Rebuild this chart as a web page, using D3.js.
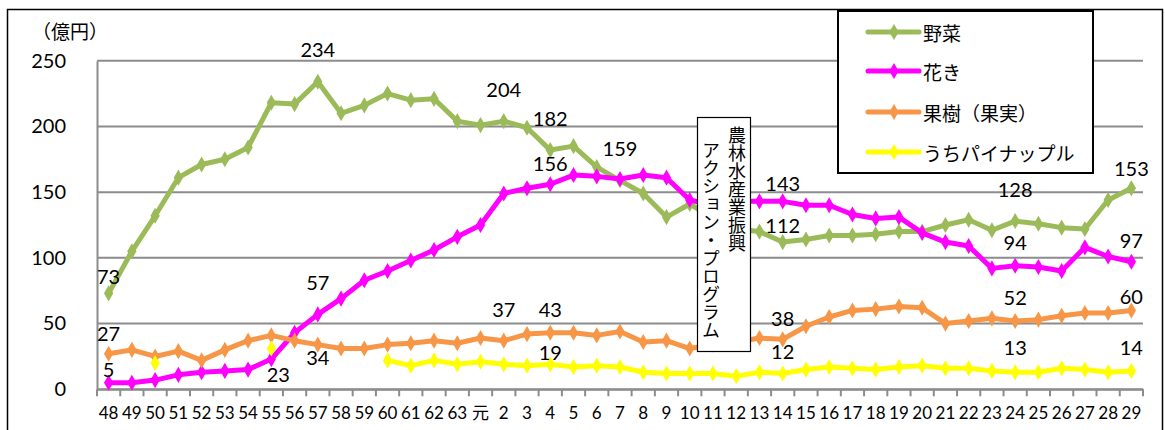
<!DOCTYPE html>
<html>
<head>
<meta charset="utf-8">
<script src="https://cdn.jsdelivr.net/npm/d3@7"></script>
<style>
  body { margin: 0; background: #fff; }
  svg { display: block; }
  text { font-family: Lato, "Noto Sans CJK JP", sans-serif; fill: #000; }
  .jp { font-family: "Noto Sans CJK JP", sans-serif; }
</style>
</head>
<body>
<div id="chart"></div>
<script>
// categories: Showa 48-63, Heisei 元-29
var categories = ["48","49","50","51","52","53","54","55","56","57","58","59","60","61","62","63",
    "元","2","3","4","5","6","7","8","9","10","11","12","13","14","15","16","17","18","19","20",
    "21","22","23","24","25","26","27","28","29"];

var vegetables = [73,105,132,161,171,175,184,218,217,234,210,216,225,220,221,204,
    201,204,199,182,185,169,159,149,131,141,130,122,120,112,114,117,117,118,120,120,
    125,129,121,128,126,123,122,144,153];

var flowers = [5,5,7,11,13,14,15,23,43,57,69,83,90,98,106,116,
    125,149,153,156,163,162,160,163,161,144,140,143,143,143,140,140,133,130,131,119,
    112,109,92,94,93,90,108,101,97];

var fruit = [27,30,25,29,22,30,37,41,37,34,31,31,34,35,37,35,
    39,37,42,43,43,41,44,36,37,31,34,36,39,38,48,55,60,61,63,62,
    50,52,54,52,53,56,58,58,60];

var pineapple = [null,null,20,null,null,null,null,31,null,null,null,null,22,18,22,19,
    21,19,18,19,17,18,17,13,12,12,12,10,13,12,15,17,16,15,17,18,
    16,16,14,13,13,16,15,13,14];

var yTicks = [0,50,100,150,200,250];

// which categories get a value label
var vegLabels = ["48","57","2","4","7","14","24","29"];
var flowerLabels = ["48","55","57","4","14","24","29"];
var fruitLabels = ["48","57","2","4","14","24","29"];
var pineLabels = ["4","14","24","29"];

var seriesNames = ["野菜", "花き", "果樹（果実）", "うちパイナップル"];
var annotation = ["農林水産業振興", "アクション・プログラム"];

// label offsets (dx, dy of text centre from the point)
var labelOffsets = {
    "野菜": {"48": [0,-17], "57": [0,-33], "2": [0,-32], "4": [0,-32], "7": [0,-32], "14": [0,-17], "24": [0,-32], "29": [0,-20]},
    "花き": {"48": [0,-14], "55": [7,15], "57": [0,-32], "4": [0,-21], "14": [0,-18], "24": [0,-24], "29": [0,-22]},
    "果樹（果実）": {"48": [0,-21], "57": [0,12], "2": [0,-32], "4": [0,-24], "14": [0,-21], "24": [0,-24], "29": [0,-14]},
    "うちパイナップル": {"4": [0,-12], "14": [0,-23], "24": [0,-25], "29": [0,-24]}
};

var series = [
    {name: seriesNames[0], values: vegetables, labels: vegLabels, color: "#9BBB59"},
    {name: seriesNames[1], values: flowers, labels: flowerLabels, color: "#FF00FF"},
    {name: seriesNames[2], values: fruit, labels: fruitLabels, color: "#F79646"},
    {name: seriesNames[3], values: pineapple, labels: pineLabels, color: "#FFFF00"}
];

var width = 1165, height = 430;
var plot = {left: 97, right: 1143, top: 60.7, bottom: 389.3};

var svg = d3.select("#chart").append("svg")
    .attr("width", width)
    .attr("height", height);

// outer chart frame (bottom edge falls outside the picture)
svg.append("rect")
    .attr("x", 7.5).attr("y", 9.5)
    .attr("width", 1155).attr("height", 440)
    .attr("fill", "#fff")
    .attr("stroke", "#000")
    .attr("stroke-width", 1.5);

var x = d3.scaleBand()
    .domain(categories)
    .range([plot.left, plot.right]);

var y = d3.scaleLinear()
    .domain([0, 250])
    .range([plot.bottom, plot.top]);

function cx(c) { return x(c) + x.bandwidth() / 2; }

// gridlines
svg.append("g")
    .selectAll("line")
    .data(yTicks)
    .enter().append("line")
    .attr("x1", plot.left).attr("x2", plot.right)
    .attr("y1", function(d) { return y(d); })
    .attr("y2", function(d) { return y(d); })
    .attr("stroke", "#8c8c8c")
    .attr("stroke-width", 2);

// y axis
var yAxis = svg.append("g")
    .attr("transform", "translate(" + plot.left + ",0)")
    .call(d3.axisLeft(y).tickValues(yTicks).tickSize(0).tickPadding(31));
yAxis.select(".domain").attr("stroke", "#8c8c8c").attr("stroke-width", 2);
yAxis.selectAll("text")
    .style("font-family", "Lato, sans-serif")
    .style("font-size", "20px")
    .attr("fill", "#000");

// x axis: ticks sit on band edges
var xAxis = svg.append("g")
    .attr("transform", "translate(0," + plot.bottom + ")")
    .call(d3.axisBottom(x).tickSize(0).tickPadding(18));
xAxis.select(".domain").attr("stroke", "#8c8c8c").attr("stroke-width", 2);
xAxis.selectAll("text")
    .style("font-family", "Lato, 'Noto Sans CJK JP', sans-serif")
    .style("font-size", "17px")
    .attr("fill", "#000");

var edges = categories.map(function(c) { return x(c); }).concat([plot.right]);
xAxis.selectAll(".edge")
    .data(edges)
    .enter().append("line")
    .attr("class", "edge")
    .attr("x1", function(d) { return d; })
    .attr("x2", function(d) { return d; })
    .attr("y1", 0).attr("y2", 7)
    .attr("stroke", "#8c8c8c")
    .attr("stroke-width", 2);

// y unit
svg.append("text")
    .attr("class", "jp")
    .attr("x", 32).attr("y", 39)
    .style("font-size", "19px")
    .text("（億円）");

var line = d3.line()
    .defined(function(d) { return d.v !== null; })
    .x(function(d) { return cx(d.c); })
    .y(function(d) { return y(d.v); });

var diamond = d3.symbol().type(d3.symbolDiamond).size(75);

series.forEach(function(s) {
    var pts = s.values.map(function(v, i) { return {c: categories[i], v: v}; });
    var g = svg.append("g");

    g.append("path")
        .datum(pts)
        .attr("fill", "none")
        .attr("stroke", s.color)
        .attr("stroke-width", 5)
        .attr("stroke-linejoin", "round")
        .attr("d", line);

    g.selectAll(".pt")
        .data(pts.filter(function(d) { return d.v !== null; }))
        .enter().append("path")
        .attr("class", "pt")
        .attr("transform", function(d) { return "translate(" + cx(d.c) + "," + y(d.v) + ")"; })
        .attr("d", diamond)
        .attr("fill", s.color);
});

// value labels
series.forEach(function(s) {
    svg.append("g")
        .selectAll("text")
        .data(s.labels)
        .enter().append("text")
        .attr("x", function(c) { return cx(c) + labelOffsets[s.name][c][0]; })
        .attr("y", function(c) { return y(s.values[categories.indexOf(c)]) + labelOffsets[s.name][c][1]; })
        .attr("text-anchor", "middle")
        .attr("dominant-baseline", "central")
        .style("font-size", "20px")
        .text(function(c) { return s.values[categories.indexOf(c)]; });
});

// annotation box (vertical text)
var note = svg.append("g");
note.append("rect")
    .attr("x", 697.5).attr("y", 117.5)
    .attr("width", 53).attr("height", 234)
    .attr("fill", "#fff")
    .attr("stroke", "#000")
    .attr("stroke-width", 1.2);
note.selectAll("text")
    .data(annotation)
    .enter().append("text")
    .attr("class", "jp")
    .attr("x", function(d, i) { return i === 0 ? 737 : 711; })
    .attr("y", function(d, i) { return i === 0 ? 126 : 141; })
    .style("writing-mode", "vertical-rl")
    .style("font-size", "18px")
    .text(function(d) { return d; });

// legend
var legend = svg.append("g");
legend.append("rect")
    .attr("x", 838).attr("y", 11)
    .attr("width", 255).attr("height", 162)
    .attr("fill", "#fff")
    .attr("stroke", "#000")
    .attr("stroke-width", 2);

var items = legend.selectAll(".item")
    .data(series)
    .enter().append("g")
    .attr("class", "item")
    .attr("transform", function(d, i) { return "translate(0," + [32, 71, 112, 152][i] + ")"; });

items.append("line")
    .attr("x1", 868).attr("x2", 919)
    .attr("stroke", function(d) { return d.color; })
    .attr("stroke-width", 5)
    .attr("stroke-linecap", "round");
items.append("path")
    .attr("transform", "translate(894,0)")
    .attr("d", diamond)
    .attr("fill", function(d) { return d.color; });
items.append("text")
    .attr("class", "jp")
    .attr("x", 923)
    .attr("dominant-baseline", "central")
    .style("font-size", "19px")
    .text(function(d) { return d.name; });
</script>
</body>
</html>
